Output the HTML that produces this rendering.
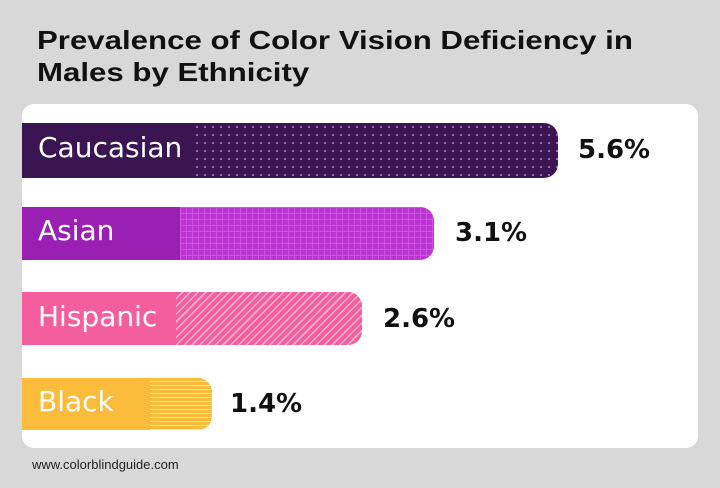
<!DOCTYPE html>
<html><head><style>
*{margin:0;padding:0}
body{width:720px;height:488px;background:#d8d8d8;position:relative;overflow:hidden;font-family:"Liberation Sans",sans-serif}
.title{position:absolute;left:37px;top:24px;font-size:26px;font-weight:bold;line-height:32px;color:#111;transform:scaleX(1.2);transform-origin:0 0;white-space:nowrap}
.card{position:absolute;left:22px;top:104px;width:676px;height:344px;background:#fff;border-radius:12px}
.bar{position:absolute;left:22px;border-radius:0 14px 14px 0;overflow:hidden}
.lab{position:absolute;left:16px;color:#fff;font-size:28px;font-family:"DejaVu Sans",sans-serif}
.pat{position:absolute;top:0;bottom:0;right:0}
.val{position:absolute;font-size:26px;font-weight:bold;color:#111;font-family:"DejaVu Sans",sans-serif}
.foot{position:absolute;left:32px;top:457px;font-size:13px;color:#222}
</style></head><body>
<div class="title">Prevalence of Color Vision Deficiency in<br>Males by Ethnicity</div>
<div class="card"></div>

<div class="bar" style="top:123px;width:536px;height:55px;background:#3b1552">
<div class="pat" style="left:171px;background-image:radial-gradient(circle,#a765c4 1px,transparent 1.3px);background-size:8px 8px"></div>
<div class="lab" style="top:8px">Caucasian</div></div>
<div class="val" style="left:578px;top:135px">5.6%</div>

<div class="bar" style="top:207px;width:412px;height:53px;background:#9a20b4">
<div class="pat" style="left:158px;background-image:linear-gradient(90deg,#d24fe6 1px,transparent 1px),linear-gradient(#d24fe6 1px,transparent 1px);background-size:6px 6px;background-color:#b935d0"></div>
<div class="lab" style="top:7px">Asian</div></div>
<div class="val" style="left:455px;top:218px">3.1%</div>

<div class="bar" style="top:292px;width:340px;height:53px;background:#f55e9c">
<div class="pat" style="left:154px;background-image:repeating-linear-gradient(135deg,#f55e9c 0 4px,#fbb0cf 4px 5.5px)"></div>
<div class="lab" style="top:8px">Hispanic</div></div>
<div class="val" style="left:383px;top:304px">2.6%</div>

<div class="bar" style="top:378px;width:190px;height:52px;background:#fbbc3b">
<div class="pat" style="left:128px;background-image:repeating-linear-gradient(180deg,#fbbc3b 0 3px,#fde3a2 3px 4px)"></div>
<div class="lab" style="top:7px">Black</div></div>
<div class="val" style="left:230px;top:389px">1.4%</div>

<div class="foot">www.colorblindguide.com</div>
</body></html>
